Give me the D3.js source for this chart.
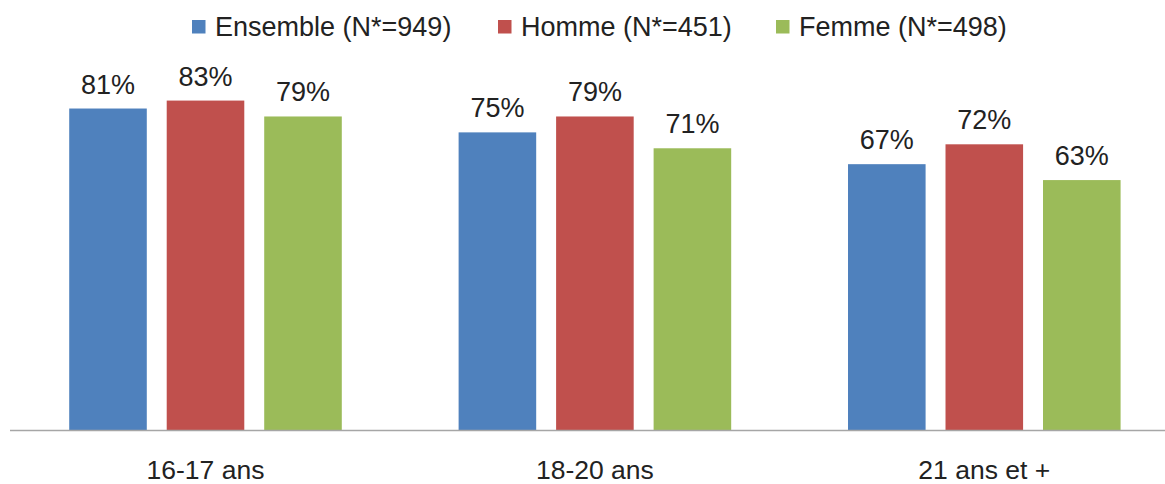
<!DOCTYPE html>
<html>
<head>
<meta charset="utf-8">
<script src="https://cdn.jsdelivr.net/npm/d3@7"></script>
<style>
  html, body { margin: 0; padding: 0; background: #fff; }
  svg { display: block; font-family: "Liberation Sans", Arial, sans-serif; }
</style>
</head>
<body>
<svg id="chart" width="1165" height="484"></svg>
<script>
const categories = ["16-17 ans", "18-20 ans", "21 ans et +"];
const seriesNames = ["Ensemble (N*=949)", "Homme (N*=451)", "Femme (N*=498)"];
const ensemble = [81, 75, 67];
const homme = [83, 79, 72];
const femme = [79, 71, 63];
const colors = ["#4F81BD", "#C0504D", "#9BBB59"];

const seriesValues = [ensemble, homme, femme];
const data = categories.map((c, i) => ({
  cat: c,
  vals: seriesValues.map((s, j) => ({ key: seriesNames[j], value: s[i], idx: j }))
}));

const svg = d3.select("#chart");
const baseY = 430.5;

const x0 = d3.scaleBand().domain(categories).range([10.8, 1179]).paddingInner(0.3).paddingOuter(0.15);
const x1 = d3.scaleBand().domain(d3.range(seriesNames.length)).range([0, x0.bandwidth()]).paddingInner(0.2043).paddingOuter(0);
const y = d3.scaleLinear().domain([0, 100]).range([baseY, baseY - 397.5]);

const groups = svg.append("g").selectAll("g").data(data).join("g")
  .attr("transform", d => `translate(${x0(d.cat)},0)`);

groups.selectAll("rect").data(d => d.vals).join("rect")
  .attr("x", d => x1(d.idx))
  .attr("width", x1.bandwidth())
  .attr("y", d => y(d.value))
  .attr("height", d => y(0) - y(d.value))
  .attr("fill", d => colors[d.idx]);

groups.selectAll("text").data(d => d.vals).join("text")
  .attr("x", d => x1(d.idx) + x1.bandwidth() / 2)
  .attr("y", d => y(d.value) - 15)
  .attr("text-anchor", "middle")
  .attr("font-size", "27px")
  .attr("fill", "#222")
  .text(d => d.value + "%");

// x axis
const xAxis = d3.axisBottom(x0).tickSize(0).tickPadding(30);
const ax = svg.append("g").attr("transform", `translate(0,${baseY})`).call(xAxis);
ax.select(".domain").remove();
ax.selectAll("text").attr("font-size", "26.5px").attr("fill", "#222")
  .attr("font-family", "Liberation Sans, Arial, sans-serif").attr("dy", "0.71em");
svg.append("line").attr("x1", 10).attr("x2", 1165).attr("y1", baseY).attr("y2", baseY)
  .attr("stroke", "#A6A6A6").attr("stroke-width", 1.5);

// legend
const legendX = [192, 498, 776];
const lg = svg.append("g").selectAll("g").data(seriesNames).join("g")
  .attr("transform", (d, i) => `translate(${legendX[i]},0)`);
lg.append("rect").attr("x", 0).attr("y", 20).attr("width", 13.5).attr("height", 13.5)
  .attr("fill", (d, i) => colors[i]);
lg.append("text").attr("x", 23).attr("y", 35.5).attr("font-size", "27px").attr("fill", "#222")
  .text(d => d);
</script>
</body>
</html>
